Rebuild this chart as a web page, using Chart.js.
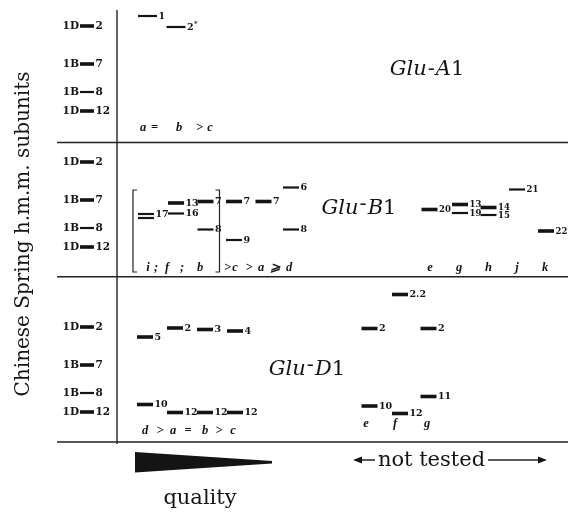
<!DOCTYPE html>
<html>
<head>
<meta charset="utf-8">
<script src="https://cdn.jsdelivr.net/npm/chart.js@4.4.1/dist/chart.umd.min.js"></script>
<style>
  html, body { margin: 0; padding: 0; background: #fff; }
  #gel { display: block; }
</style>
</head>
<body>
<canvas id="gel" width="568" height="513"></canvas>
<script>
// Chinese Spring marker ladder, repeated in each panel
const ladderSubunits = ['2', '7', '8', '12'];
const ladderGenomes = ['1D', '1B', '1B', '1D'];
const ladderShift = [0, 38, 66, 85];      // migration below subunit 2
const ladderTops = [26, 162, 327];        // subunit 2 in each panel
const ladderHeavy = [1, 1, 0, 1];
const ladderLane = 87;

// Glu-A1 alleles a, b (c = null)
const a1X = [147.5, 176];
const a1Y = [16, 27];
const a1Subunits = ['1', '2*'];
const a1Heavy = [0, 0];

// Glu-B1 alleles i, f, b, c, a, d
const b1X = [146, 146, 176, 176, 205.5, 205.5, 234, 234, 263.5, 291, 291];
const b1Y = [214, 218, 203, 213.5, 201.5, 229.5, 201.5, 240, 201.5, 187.5, 229.5];
const b1Subunits = ['17', '', '13', '16', '7', '8', '7', '9', '7', '6', '8'];
const b1Heavy = [0, 0, 1, 0, 1, 0, 1, 0, 1, 0, 0];

// Glu-B1 alleles e, g, h, j, k (not tested)
const b1xX = [429.5, 460, 460, 488.5, 488.5, 517, 546];
const b1xY = [209.5, 204.5, 213, 207.5, 215, 189.5, 231];
const b1xSubunits = ['20', '13', '19', '14', '15', '21', '22'];
const b1xHeavy = [1, 1, 0, 1, 0, 0, 1];

// Glu-D1 alleles d, a, b, c
const d1X = [145, 145, 175, 175, 205, 205, 235, 235];
const d1Y = [337, 404.5, 328, 412.5, 329.5, 412.5, 331, 412.5];
const d1Subunits = ['5', '10', '2', '12', '3', '12', '4', '12'];
const d1Heavy = [1, 1, 1, 1, 1, 1, 1, 1];

// Glu-D1 alleles e, f, g (not tested)
const d1xX = [369.5, 369.5, 400, 400, 428.5, 428.5];
const d1xY = [328.5, 406, 294.5, 413.5, 328.5, 396.5];
const d1xSubunits = ['2', '10', '2.2', '12', '2', '11'];
const d1xHeavy = [1, 1, 1, 1, 1, 1];

const INK = '#141414';
const SERIF = '"DejaVu Serif", "Liberation Serif", serif';
const TIMES = '"Liberation Serif", serif';

function bands(xs, ys, labels, heavy, half, extra) {
  return Object.assign({
    data: xs.map((x, i) => ({ x: x, y: ys[i] })),
    labels: labels,
    showLine: false,
    pointStyle: 'line',
    pointRadius: half,
    pointHoverRadius: half,
    borderColor: INK,
    backgroundColor: INK,
    pointBorderWidth: heavy.map(h => h ? 3.6 : 2.2),
    pointHoverBorderWidth: heavy.map(h => h ? 3.6 : 2.2),
    labelFont: 'bold 9.5px ' + SERIF
  }, extra || {});
}

const ladderX = [], ladderY = [], ladderLabels = [], ladderLeft = [], ladderW = [];
ladderTops.forEach(top => {
  ladderShift.forEach((s, i) => {
    ladderX.push(ladderLane);
    ladderY.push(top + s);
    ladderLabels.push(ladderSubunits[i]);
    ladderLeft.push(ladderGenomes[i]);
    ladderW.push(ladderHeavy[i]);
  });
});

const bandLabels = {
  id: 'bandLabels',
  afterDatasetsDraw(chart) {
    const ctx = chart.ctx;
    ctx.save();
    ctx.fillStyle = INK;
    ctx.textBaseline = 'middle';
    chart.data.datasets.forEach((ds, di) => {
      const meta = chart.getDatasetMeta(di);
      meta.data.forEach((pt, i) => {
        const r = ds.pointRadius;
        const lab = ds.labels[i];
        ctx.font = ds.labelFont;
        if (lab) {
          ctx.textAlign = 'left';
          if (lab.endsWith('*')) {
            const base = lab.slice(0, -1);
            ctx.fillText(base, pt.x + r + 1.5, pt.y + 0.5);
            const w = ctx.measureText(base).width;
            ctx.font = 'bold 7px ' + SERIF;
            ctx.fillText('*', pt.x + r + 1.8 + w, pt.y - 3);
          } else {
            ctx.fillText(lab, pt.x + r + 1.5, pt.y + 0.5);
          }
        }
        if (ds.leftLabels) {
          ctx.font = ds.labelFont;
          ctx.textAlign = 'right';
          ctx.fillText(ds.leftLabels[i], pt.x - r - 1, pt.y + 0.5);
        }
      });
    });
    ctx.restore();
  }
};

function gluName(ctx, X, Y, cx, base, letter, raised) {
  const it = 'italic 21px ' + SERIF;
  const rm = '21px ' + SERIF;
  ctx.font = it;
  const wG = ctx.measureText('Glu').width;
  const wL = ctx.measureText(letter).width;
  ctx.font = rm;
  const wH = ctx.measureText('-').width;
  const w1 = ctx.measureText('1').width;
  const total = wG + wH + 2 + wL + w1;
  let x = X(cx) - total / 2;
  const y = Y(base);
  ctx.textAlign = 'left';
  ctx.textBaseline = 'alphabetic';
  ctx.font = it; ctx.fillText('Glu', x, y); x += wG + 1;
  ctx.font = rm; ctx.fillText('-', x, raised ? y - 4 : y); x += wH + 1;
  ctx.font = it; ctx.fillText(letter, x, y); x += wL;
  ctx.font = rm; ctx.fillText('1', x, y);
}

function tokens(ctx, X, Y, list, base) {
  ctx.font = 'italic bold 12.5px ' + TIMES;
  ctx.textAlign = 'center';
  ctx.textBaseline = 'alphabetic';
  list.forEach(t => ctx.fillText(t[0], X(t[1]), Y(base)));
}

const gelDecor = {
  id: 'gelDecor',
  beforeDatasetsDraw(chart) {
    const ctx = chart.ctx;
    const X = v => chart.scales.x.getPixelForValue(v);
    const Y = v => chart.scales.y.getPixelForValue(v);
    ctx.save();
    ctx.strokeStyle = '#222';
    ctx.fillStyle = INK;
    ctx.lineWidth = 1.4;

    // frame
    ctx.beginPath();
    ctx.moveTo(X(117), Y(10)); ctx.lineTo(X(117), Y(444));
    [142.5, 276.7, 442].forEach(h => { ctx.moveTo(X(57), Y(h)); ctx.lineTo(X(568), Y(h)); });
    ctx.stroke();

    // bracket around i ; f ; b
    ctx.lineWidth = 1.2;
    ctx.beginPath();
    ctx.moveTo(X(137), Y(190)); ctx.lineTo(X(133), Y(190)); ctx.lineTo(X(133), Y(272)); ctx.lineTo(X(137), Y(272));
    ctx.moveTo(X(215.5), Y(190)); ctx.lineTo(X(219.5), Y(190)); ctx.lineTo(X(219.5), Y(272)); ctx.lineTo(X(215.5), Y(272));
    ctx.stroke();

    // panel names
    gluName(ctx, X, Y, 427, 75, 'A', false);
    gluName(ctx, X, Y, 359, 213.5, 'B', true);
    gluName(ctx, X, Y, 307, 375, 'D', true);

    // quality rankings and allele names
    tokens(ctx, X, Y, [['a', 143], ['=', 154.5], ['b', 179], ['>', 199.5], ['c', 210]], 131);
    tokens(ctx, X, Y, [['i', 148], [';', 156], ['f', 167], [';', 182], ['b', 200],
      ['>', 227.5], ['c', 235], ['>', 249], ['a', 261], ['\u2A7E', 275], ['d', 289]], 270.5);
    tokens(ctx, X, Y, [['e', 430], ['g', 459], ['h', 488.5], ['j', 517], ['k', 545]], 270.5);
    tokens(ctx, X, Y, [['d', 145], ['>', 160], ['a', 173], ['=', 188], ['b', 205], ['>', 219], ['c', 233]], 434);
    tokens(ctx, X, Y, [['e', 366], ['f', 395], ['g', 427]], 427);

    // quality wedge
    ctx.beginPath();
    ctx.moveTo(X(135), Y(452)); ctx.lineTo(X(272), Y(461)); ctx.lineTo(X(272), Y(463.5)); ctx.lineTo(X(135), Y(472.5));
    ctx.closePath(); ctx.fill();

    ctx.font = '21px ' + SERIF;
    ctx.textAlign = 'center';
    ctx.textBaseline = 'alphabetic';
    ctx.fillText('quality', X(200), Y(504));
    ctx.fillText('not tested', X(431.5), Y(466));

    // not-tested arrows
    ctx.lineWidth = 1.3;
    ctx.beginPath();
    ctx.moveTo(X(360), Y(460)); ctx.lineTo(X(375), Y(460));
    ctx.moveTo(X(488), Y(460)); ctx.lineTo(X(540), Y(460));
    ctx.stroke();
    ctx.beginPath();
    ctx.moveTo(X(353), Y(460)); ctx.lineTo(X(362), Y(456.5)); ctx.lineTo(X(362), Y(463.5)); ctx.closePath();
    ctx.moveTo(X(547), Y(460)); ctx.lineTo(X(538), Y(456.5)); ctx.lineTo(X(538), Y(463.5)); ctx.closePath();
    ctx.fill();

    // y title
    ctx.save();
    ctx.translate(X(29), Y(234));
    ctx.rotate(-Math.PI / 2);
    ctx.font = '20px ' + SERIF;
    ctx.textAlign = 'center';
    ctx.fillText('Chinese Spring h.m.m. subunits', 0, 0);
    ctx.restore();

    ctx.restore();
  }
};

new Chart(document.getElementById('gel'), {
  type: 'scatter',
  data: {
    datasets: [
      bands(ladderX, ladderY, ladderLabels, ladderW, 7, { leftLabels: ladderLeft, labelFont: 'bold 10.5px ' + SERIF }),
      bands(a1X, a1Y, a1Subunits, a1Heavy, 9.5),
      bands(b1X, b1Y, b1Subunits, b1Heavy, 8),
      bands(b1xX, b1xY, b1xSubunits, b1xHeavy, 8, { labelFont: 'bold 8.5px ' + SERIF }),
      bands(d1X, d1Y, d1Subunits, d1Heavy, 8),
      bands(d1xX, d1xY, d1xSubunits, d1xHeavy, 8)
    ]
  },
  options: {
    responsive: false,
    devicePixelRatio: 1,
    animation: false,
    events: [],
    layout: { padding: 0, autoPadding: false },
    plugins: { legend: { display: false }, tooltip: { enabled: false } },
    scales: {
      x: { type: 'linear', min: 0, max: 568, display: false },
      y: { type: 'linear', min: 0, max: 513, reverse: true, display: false }
    }
  },
  plugins: [gelDecor, bandLabels]
});
</script>
</body>
</html>
